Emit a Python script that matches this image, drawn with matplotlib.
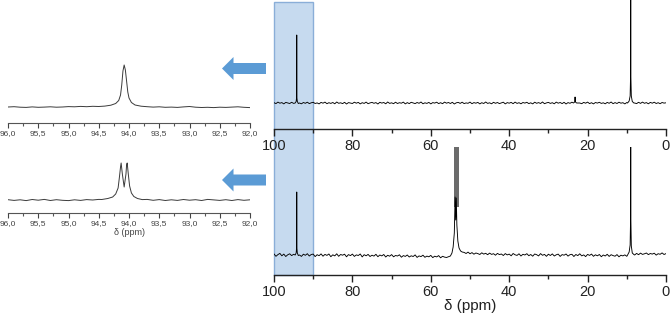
import numpy as np
import matplotlib
matplotlib.use('Agg')
import matplotlib.pyplot as plt
from matplotlib.patches import Rectangle, Polygon
from matplotlib.ticker import MultipleLocator

plt.rcParams['font.family'] = ['Liberation Sans', 'DejaVu Sans']

W, H = 670, 313

# ---- main spectra (ppm 100 -> 0, 0.5 ppm step baseline + peak points) ----
main_ppm = np.linspace(100, 0, 201)
top_base = [0.3, -0.6, 0.9, -0.2, 0.4, -0.9, 0.6, 0.1, -0.5, 0.7,
            -0.4, 0.2, 0.0, 0.0, -0.8, 0.5, -0.3, 0.8, -0.6, 0.2,
            0.7, -0.5, 0.1, -0.9, 0.6, -0.2, 0.9, -0.7, 0.3, -0.4,
            0.5, -0.8, 1.0, -0.3, 0.2, -0.6, 0.7, -1.0, 0.4, 0.0,
            -0.5, 0.8, -0.2, 0.6, -0.9, 0.3, -0.4, 0.9, -0.7, 0.1,
            0.6, -0.3, 0.4, -1.0, 0.7, -0.1, 0.5, -0.8, 1.0, -0.4,
            0.2, -0.7, 0.8, -0.5, 0.3, -0.2, 0.9, -0.9, 0.4, -0.6,
            0.7, 0.0, -0.6, 0.5, -0.3, 1.0, -0.8, 0.2, -0.4, 0.6,
            -0.9, 0.4, -0.1, 0.8, -0.6, 0.3, -0.7, 0.9, -0.2, 0.5,
            -0.5, 0.7, -1.0, 0.2, 0.6, -0.4, 0.8, -0.6, 0.1, -0.3,
            0.9, -0.7, 0.4, -0.2, 0.6, -0.9, 0.3, -0.5, 1.0, -0.4,
            0.2, -0.8, 0.7, -0.3, 0.5, -0.6, 0.1, 0.8, -0.9, 0.4,
            -0.2, 0.6, -0.7, 0.9, -0.4, 0.3, -0.8, 0.5, -0.1, 0.7,
            -0.6, 0.2, -0.9, 0.8, -0.3, 0.4, -0.5, 1.0, -0.7, 0.1,
            0.6, -0.4, 0.3, -0.8, 0.9, -0.2, 0.5, -0.6, 0.7, -1.0,
            0.4, -0.3, 0.8, -0.5, 0.0, 0.0, 0.0, -0.7, 0.6, -0.2,
            0.9, -0.6, 0.3, -0.9, 0.5, -0.1, 0.7, -0.4, 0.2, -0.8,
            0.6, -0.3, 1.0, -0.7, 0.4, -0.5, 0.8, -0.2, 0.3, -0.9,
            0.5, 0.0, 0.0, 0.0, 0.0, -0.6, 0.7, -0.4, 0.9, -0.3,
            0.4, -0.8, 0.6, -0.2, 0.8, -0.5, 0.3, -0.7, 0.5, -0.1,
            0.2]
top_peak_ppm = [94.6, 94.35, 94.22, 94.2, 94.18, 94.05, 93.8,
                23.6, 23.3, 23.22, 23.2, 23.18, 23.1, 22.8,
                9.8, 9.4, 9.15, 9.02, 9.0, 8.98, 8.85, 8.6, 8.2]
top_peak_int = [0.0, 1.5, 6, 68, 6, 1.5, -0.5,
                0.0, 1.0, 3, 6, 3, 1.0, 0.0,
                0.0, 2, 7, 30, 112, 30, 7, 1.5, 0.0]

bot_base = [1.0, -1.3, 0.4, 1.6, -0.8, 0.9, -1.5, 0.2, 1.2, -0.6,
            0.7, -1.1, 0.0, 0.0, -1.4, 0.8, -0.3, 1.3, -1.0, 0.5,
            0.9, -1.6, 0.3, -0.7, 1.1, -1.2, 0.6, -0.4, 1.0, -1.7,
            0.2, -0.9, 1.2, -1.3, 0.5, -0.2, 0.8, -1.8, 0.4, -0.6,
            0.9, -1.4, 0.1, -0.5, 1.0, -1.9, 0.3, -0.8, 0.6, -1.5,
            -0.2, -1.1, 0.7, -1.7, 0.0, -0.9, 0.5, -2.0, -0.3, -1.2,
            0.4, -1.8, -0.5, -1.0, 0.2, -2.2, -0.6, -1.4, 0.0, -2.0,
            -0.8, -1.5, 0.1, -2.4, -0.9, -1.6, -0.2, -2.3, -1.1, -1.8,
            -0.4, -2.6, -1.2, -1.9, -0.6, -2.8, -1.3, -2.1, -0.9, -2.5,
            0.0, 0.0, 0.0, 0.0, 0.0, 0.0, 0.0, 2.6, 1.5, 2.9,
            1.2, 2.4, 0.8, 2.0, 1.4, 0.5, 2.2, 0.9, 1.7, 0.3,
            1.9, 0.6, 1.3, -0.2, 1.6, 0.4, 1.0, -0.5, 1.4, 0.1,
            0.9, -0.8, 1.5, 0.2, -0.4, 1.2, -1.0, 0.7, 0.0, 1.3,
            -0.7, 0.5, -1.2, 1.0, 0.3, -0.9, 1.4, -0.3, 0.6, -1.3,
            0.8, -0.5, 1.1, -1.0, 0.2, 0.9, -1.4, 0.4, -0.2, 1.0,
            -1.1, 0.3, 0.7, -1.5, 0.5, -0.6, 1.2, -0.9, 0.1, -1.6,
            0.6, -0.4, 0.9, -1.3, 0.2, -0.8, 0.5, -1.7, 0.0, -1.0,
            0.7, -1.4, 0.3, -0.6, -1.2, 0.4, -1.8, -0.2, -0.9, 0.1,
            -1.3, 0.0, 0.0, 0.0, 0.0, 1.6, 0.3, 1.9, 0.6, 1.2,
            2.0, 0.4, 1.5, 0.9, 1.8, -0.1, 1.3, 0.7, 2.1, 0.5,
            1.4]
bot_peak_ppm = [94.6, 94.35, 94.22, 94.2, 94.18, 94.05, 93.8,
                56.0, 55.0, 54.6, 54.3, 54.0, 53.8, 53.65, 53.5, 53.35, 53.1, 52.8, 52.4, 52.0,
                9.8, 9.4, 9.15, 9.02, 9.0, 8.98, 8.85, 8.6, 8.2]
bot_peak_int = [0.0, 2, 8, 63, 8, 2, -0.5,
                -2.5, -1.0, 2, 8, 22, 58, 35, 57, 30, 14, 7, 4, 3,
                0.0, 3, 10, 40, 115, 40, 9, 2, 0.5]
band_ppm = [54.0, 52.7]
band_lo = [48, 48]
band_hi = [120, 120]

main_ticks = [100, 80, 60, 40, 20, 0]

# ---- insets (ppm 96 -> 92, 0.1 ppm step baseline + peak points) ----
inset_ppm = np.round(np.linspace(96.0, 92.0, 41), 2)
ins1_base = [0.0, 0.3, -0.2, -0.4, 0.1, -0.3, -0.1, 0.2, -0.2, 0.0,
             0.4, 0.2, 0.6, 0.3, 0.7, 0.5, 0.8,
             0.0, 0.0, 0.0, 0.0, 0.0, 0.0,
             0.3, -0.1, 0.2, -0.3, -0.1, -0.4, 0.1, 0.5, -0.2, -0.5,
             -0.3, -0.6, -0.2, -0.4, -0.1, 0.2, -0.3, -0.6]
ins1_peak_ppm = [94.40, 94.30, 94.22, 94.17, 94.14, 94.12, 94.10, 94.08,
                 94.06, 94.04, 94.02, 94.00, 93.96, 93.90, 93.80]
ins1_peak_int = [0.9, 1.8, 3.5, 6.5, 12, 22, 36, 42, 37, 26, 15, 9, 4.5, 2, 0.8]

ins2_base = [0.3, -0.4, 0.2, -0.6, 0.5, -0.2, 0.6, -0.5, 0.3, -0.3,
             -0.6, 0.2, -0.4, 0.4, 0.0, 0.6,
             0.0, 0.0, 0.0, 0.0, 0.0, 0.0, 0.0,
             0.6, -0.3, 0.4, -0.5, 0.2, -0.4, 0.5, -0.2, 0.3, -0.5,
             0.6, 0.1, -0.4, 0.3, -0.5, 0.4, -0.3, 0.2]
ins2_peak_ppm = [94.45, 94.35, 94.27, 94.22, 94.18, 94.16, 94.14, 94.13, 94.11,
                 94.08, 94.05, 94.04, 94.03, 94.01, 93.99, 93.96, 93.92, 93.86, 93.78]
ins2_peak_int = [0.5, 1.5, 3, 6, 12, 22, 33, 37, 26,
                 13, 26, 35, 37, 25, 14, 7, 3.5, 1.5, 0.4]

inset_ticks = [96.0, 95.5, 95.0, 94.5, 94.0, 93.5, 93.0, 92.5, 92.0]
inset_labels = ['96,0', '95,5', '95,0', '94,5', '94,0', '93,5', '93,0', '92,5', '92,0']


def merge(base_x, base_y, pk_x, pk_y):
    """Join baseline samples with peak samples, dropping baseline inside peaks."""
    base_x = np.asarray(base_x, float)
    base_y = np.asarray(base_y, float)
    groups = []
    start = 0
    for i in range(1, len(pk_x) + 1):
        if i == len(pk_x) or pk_x[i - 1] - pk_x[i] > 1.0:
            groups.append((min(pk_x[start:i]), max(pk_x[start:i])))
            start = i
    keep = np.ones(len(base_x), bool)
    for lo, hi in groups:
        keep &= ~((base_x >= lo - 1e-6) & (base_x <= hi + 1e-6))
    x = np.concatenate([base_x[keep], pk_x])
    y = np.concatenate([base_y[keep], pk_y])
    order = np.argsort(-x)
    return x[order], y[order]


def box(x0, y0, x1, y1):
    return [x0 / W, 1 - y1 / H, (x1 - x0) / W, (y1 - y0) / H]


fig = plt.figure(figsize=(W / 100, H / 100), dpi=100)

# overlay for highlight box and arrows
ov = fig.add_axes([0, 0, 1, 1], zorder=-1)
ov.set_xlim(0, W)
ov.set_ylim(H, 0)
ov.axis('off')
ov.add_patch(Rectangle((274, 2), 39, 273, facecolor='#c6daef', edgecolor='#8aaed8', lw=1))
for yc in (68.5, 180):
    ov.add_patch(Polygon([(222, yc), (233.5, yc - 11.5), (233.5, yc - 5.5), (266, yc - 5.5),
                          (266, yc + 5.5), (233.5, yc + 5.5), (233.5, yc + 11.5)],
                         closed=True, facecolor='#5b9bd5', edgecolor='none'))


def style_main(ax):
    ax.set_facecolor('none')
    for s in ('top', 'left', 'right'):
        ax.spines[s].set_visible(False)
    ax.spines['bottom'].set_color('#222222')
    ax.spines['bottom'].set_linewidth(1.0)
    ax.set_xlim(100, 0)
    ax.set_xticks(main_ticks)
    ax.set_xticklabels([str(t) for t in main_ticks])
    ax.xaxis.set_minor_locator(MultipleLocator(10))
    ax.tick_params(axis='x', which='major', length=5, width=1, pad=2.5,
                   labelsize=10.5, colors='#222222')
    ax.tick_params(axis='x', which='minor', length=3, width=1, colors='#222222')
    ax.set_yticks([])


ax1 = fig.add_axes(box(274, 0, 666, 129))
style_main(ax1)
ax1.set_ylim(-26, 103)
x, y = merge(main_ppm, top_base, top_peak_ppm, top_peak_int)
ax1.plot(x, y, color='black', lw=0.65)

ax2 = fig.add_axes(box(274, 147, 666, 275))
style_main(ax2)
ax2.set_ylim(-20, 108)
ax2.fill_between(band_ppm, band_lo, band_hi, color='#6b6b6b', lw=0)
x, y = merge(main_ppm, bot_base, bot_peak_ppm, bot_peak_int)
ax2.plot(x, y, color='black', lw=0.65)
ax2.set_xlabel('δ (ppm)', fontsize=11, color='#222222', labelpad=0)


def style_inset(ax):
    ax.set_facecolor('none')
    for s in ('top', 'left', 'right'):
        ax.spines[s].set_visible(False)
    ax.spines['bottom'].set_color('#555555')
    ax.spines['bottom'].set_linewidth(0.8)
    ax.set_xlim(96, 92)
    ax.set_xticks(inset_ticks)
    ax.set_xticklabels(inset_labels)
    ax.xaxis.set_minor_locator(MultipleLocator(0.25))
    ax.tick_params(axis='x', which='major', length=3.5, width=0.8, pad=1.5,
                   labelsize=6, colors='#444444')
    ax.tick_params(axis='x', which='minor', length=2, width=0.8, colors='#555555')
    ax.set_yticks([])


ax3 = fig.add_axes(box(8, 55, 250, 123))
style_inset(ax3)
ax3.set_ylim(-16, 52)
x, y = merge(inset_ppm, ins1_base, ins1_peak_ppm, ins1_peak_int)
ax3.plot(x, y, color='#3a3a3a', lw=0.7)

ax4 = fig.add_axes(box(8, 150, 250, 213))
style_inset(ax4)
ax4.set_ylim(-13, 50)
x, y = merge(inset_ppm, ins2_base, ins2_peak_ppm, ins2_peak_int)
ax4.plot(x, y, color='#3a3a3a', lw=0.7)
ax4.set_xlabel('δ (ppm)', fontsize=6.5, color='#444444', labelpad=1)

fig.savefig('out.png', dpi=100)
